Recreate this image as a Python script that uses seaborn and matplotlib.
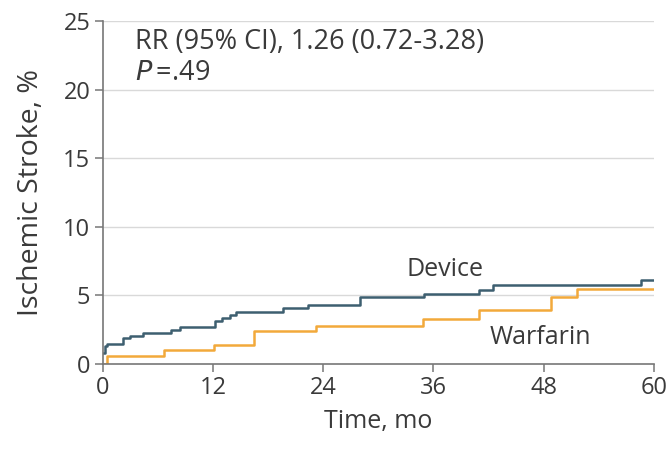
import matplotlib
matplotlib.use("Agg")
import matplotlib.pyplot as plt
import seaborn as sns
import pandas as pd

# Data (cumulative incidence, %)
device_t = [0, 0.2, 0.5, 2.2, 3.0, 4.4, 7.4, 8.4, 12.2, 13.0, 13.8, 14.5, 19.6, 22.3, 28.0, 35.0, 41.0, 42.5, 58.6, 60]
device_y = [0.8, 1.3, 1.46, 1.9, 2.05, 2.26, 2.5, 2.7, 3.1, 3.35, 3.6, 3.79, 4.08, 4.32, 4.85, 5.1, 5.4, 5.73, 6.14, 6.14]
warfarin_t = [0, 0.5, 6.7, 12.1, 16.5, 23.2, 34.9, 41.0, 48.8, 51.6, 60]
warfarin_y = [0, 0.55, 1.04, 1.4, 2.43, 2.79, 3.3, 3.96, 4.85, 5.46, 5.46]
x_ticks = [0, 12, 24, 36, 48, 60]
y_ticks = [0, 5, 10, 15, 20, 25]

df = pd.concat([
    pd.DataFrame({"t": device_t, "y": device_y, "group": "Device"}),
    pd.DataFrame({"t": warfarin_t, "y": warfarin_y, "group": "Warfarin"}),
], ignore_index=True)

sns.set_style("white")
plt.rcParams["font.family"] = ["Open Sans", "DejaVu Sans"]
text_color = "#3a3a3a"

fig = plt.figure(figsize=(6.72, 4.55), dpi=100)
ax = fig.add_axes([0.153, 0.2, 0.82, 0.754])

palette = {"Device": "#3d5f70", "Warfarin": "#f2a93b"}
sns.lineplot(data=df, x="t", y="y", hue="group", palette=palette, ax=ax,
             drawstyle="steps-post", linewidth=1.8, legend=False, sort=False,
             estimator=None, errorbar=None)

ax.set_xlim(0, 60)
ax.set_ylim(0, 25)
ax.set_xticks(x_ticks)
ax.set_yticks(y_ticks)
ax.set_xticklabels([str(v) for v in x_ticks])
ax.set_yticklabels([str(v) for v in y_ticks])
for g in y_ticks[1:]:
    ax.axhline(g, color="#d9d9d9", linewidth=1.0, zorder=0)

for s in ["top", "right"]:
    ax.spines[s].set_visible(False)
for s in ["left", "bottom"]:
    ax.spines[s].set_color("#777777")
    ax.spines[s].set_linewidth(1.2)
ax.tick_params(axis="both", which="major", direction="out", length=6, width=1.1,
               color="#777777", labelsize=17, labelcolor=text_color, pad=3)
ax.tick_params(axis="x", bottom=True)
ax.tick_params(axis="y", left=True)

ax.set_xlabel("Time, mo", fontsize=18, color=text_color, labelpad=6)
ax.set_ylabel("Ischemic Stroke, %", fontsize=20.5, color=text_color, labelpad=13)

ax.text(3.5, 23.5, "RR (95% CI), 1.26 (0.72-3.28)", fontsize=19.5, color=text_color,
        ha="left", va="center")
ax.text(3.5, 21.2, r"$\it{P}$" + "\u2009=.49", fontsize=19.5, color=text_color,
        ha="left", va="center")
ax.text(37.3, 6.85, "Device", fontsize=18, color=text_color, ha="center", va="center")
ax.text(47.6, 1.9, "Warfarin", fontsize=18, color=text_color, ha="center", va="center")

fig.savefig("out.png", dpi=100)
